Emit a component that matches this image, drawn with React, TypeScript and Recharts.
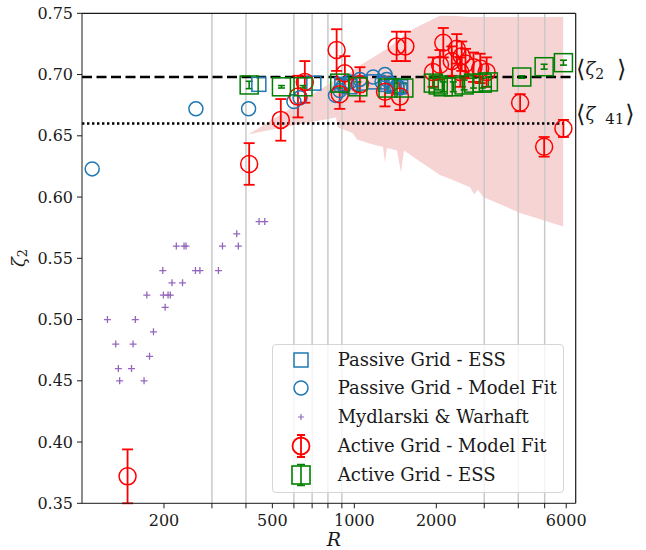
import React from 'react';
import {
  ComposedChart,
  XAxis,
  YAxis,
  Scatter,
  Area,
  ErrorBar,
  ReferenceLine,
  Legend,
} from 'recharts';

document.body.style.margin = '0';

const FONT = '"DejaVu Serif", serif';
const INK = '#1a1a1a';
const BLUE = '#1f77b4';
const PURPLE = '#9467bd';
const RED = '#ff0000';
const GREEN = '#008000';

// shaded band (spread of the active grid fits)
const BAND_R = [407, 580, 856, 870, 988, 1022, 1170, 1274, 1296, 1318, 1434, 1484, 1522, 1642, 1742, 2063, 2300, 2660, 2754, 2846, 2970, 4063, 5848];
const BAND_LO = [0.651, 0.658, 0.665, 0.657, 0.652, 0.647, 0.643, 0.641, 0.628, 0.64, 0.638, 0.62, 0.638, 0.633, 0.629, 0.618, 0.614, 0.608, 0.602, 0.606, 0.6, 0.587, 0.576];
const BAND_HI = [0.651, 0.672, 0.696, 0.696, 0.703, 0.706, 0.714, 0.719, 0.72, 0.721, 0.727, 0.73, 0.732, 0.737, 0.74, 0.748, 0.748, 0.747, 0.747, 0.747, 0.747, 0.747, 0.747];

// Passive Grid - ESS
const PG_ESS_R = [446, 710, 900, 963, 1050, 1180, 1300, 1400, 1480];
const PG_ESS_Z = [0.692, 0.693, 0.692, 0.69, 0.693, 0.694, 0.692, 0.691, 0.69];

// Passive Grid - Model Fit
const PG_FIT_R = [109, 262, 409, 600, 632, 853, 884, 914, 964, 1048, 1173, 1264, 1296, 1314, 1370, 1430, 1471];
const PG_FIT_Z = [0.623, 0.672, 0.672, 0.678, 0.681, 0.683, 0.687, 0.691, 0.694, 0.696, 0.698, 0.694, 0.7, 0.696, 0.692, 0.69, 0.689];

// Mydlarski & Warhaft
const MW_R = [124, 133, 136, 137.5, 152, 154, 157, 169, 173, 177, 183, 198, 199, 202, 207, 211, 214, 222, 234, 237, 241, 261, 271, 317, 328, 370, 375, 447, 469];
const MW_Z = [0.5, 0.48, 0.46, 0.45, 0.46, 0.48, 0.5, 0.45, 0.52, 0.47, 0.49, 0.54, 0.52, 0.51, 0.52, 0.52, 0.53, 0.56, 0.53, 0.56, 0.56, 0.54, 0.54, 0.54, 0.56, 0.57, 0.56, 0.58, 0.58];

// Active Grid - Model Fit
const AG_FIT_R = [147, 411, 537, 621, 658, 861, 884, 923, 1048, 1296, 1430, 1471, 1540, 1945, 2063, 2122, 2280, 2378, 2450, 2480, 2560, 2740, 2900, 3060, 4063, 4978, 5860];
const AG_FIT_Z = [0.372, 0.627, 0.663, 0.682, 0.694, 0.72, 0.684, 0.701, 0.692, 0.686, 0.723, 0.682, 0.723, 0.702, 0.708, 0.726, 0.711, 0.721, 0.702, 0.715, 0.709, 0.706, 0.705, 0.702, 0.677, 0.641, 0.656];
const AG_FIT_E = [0.022, 0.017, 0.017, 0.017, 0.017, 0.017, 0.012, 0.014, 0.014, 0.012, 0.012, 0.011, 0.012, 0.012, 0.012, 0.012, 0.012, 0.012, 0.012, 0.012, 0.012, 0.012, 0.012, 0.012, 0.007, 0.008, 0.007];

// Active Grid - ESS
const AG_ESS_R = [411, 540, 648, 884, 1030, 1330, 1520, 1950, 2033, 2120, 2310, 2530, 2740, 2950, 3106, 4120, 4978, 5860];
const AG_ESS_Z = [0.6915, 0.69, 0.69, 0.693, 0.69, 0.689, 0.689, 0.693, 0.6915, 0.69, 0.69, 0.6915, 0.693, 0.693, 0.694, 0.698, 0.7064, 0.7097];
const AG_ESS_E = [0.003, 0.001, 0.001, 0.004, 0.004, 0.004, 0.004, 0.004, 0.004, 0.004, 0.004, 0.004, 0.004, 0.004, 0.004, 0.001, 0.002, 0.002];

const MEAN_ESS = 0.698;
const MEAN_FIT = 0.66;

const X_MAJOR = [200, 500, 1000, 2000, 6000];
const X_TICKS = [200, 300, 400, 500, 600, 700, 800, 900, 1000, 2000, 3000, 4000, 5000, 6000];
const X_GRID = [300, 400, 600, 700, 800, 900, 3000, 4000, 5000];
const Y_TICKS = [0.35, 0.4, 0.45, 0.5, 0.55, 0.6, 0.65, 0.7, 0.75];

const LEGEND_LABELS = [
  'Passive Grid - ESS',
  'Passive Grid - Model Fit',
  'Mydlarski & Warhaft',
  'Active Grid - Model Fit',
  'Active Grid - ESS',
];

const pts = (r: number[], z: number[], e?: number[]) =>
  r.map((v, i) => ({ r: v, z: z[i], e: e ? e[i] : 0 }));

const band = BAND_R.map((r, i) => ({ r, band: [BAND_LO[i], BAND_HI[i]] }));

const ring = (rad: number, color: string) => (p: any) =>
  <circle cx={p.cx} cy={p.cy} r={rad} fill="none" stroke={color} strokeWidth={1.5} />;
const box = (s: number, color: string) => (p: any) =>
  <rect x={p.cx - s / 2} y={p.cy - s / 2} width={s} height={s} fill="none" stroke={color} strokeWidth={1.5} />;
const plus = (p: any) =>
  <path d={`M${p.cx - 3.5},${p.cy}h7M${p.cx},${p.cy - 3.5}v7`} stroke={PURPLE} strokeWidth={1.3} />;

// the <ζ_2> / <ζ_41> tags to the right of the axes
function SideText({ y, sub }: { y: number; sub: string }) {
  const wide = sub.length > 1;
  return (
    <text x={576} y={y} fontFamily={FONT} fontSize={18} fill={INK}>
      <tspan fontSize={24} dy={2}>⟨</tspan>
      <tspan fontStyle="italic" dy={-2}>ζ</tspan>
      <tspan dx={wide ? 10 : 0} dy={4} fontSize={wide ? 15 : 14}>{sub}</tspan>
      <tspan fontSize={24} dx={wide ? 1 : 13} dy={-2}>⟩</tspan>
    </text>
  );
}

const legendMarks = [
  <rect x={7} y={7} width={14} height={14} fill="none" stroke={BLUE} strokeWidth={1.5} />,
  <circle cx={14} cy={14} r={7} fill="none" stroke={BLUE} strokeWidth={1.5} />,
  <path d="M11,14h6M14,11v6" stroke={PURPLE} strokeWidth={1.2} />,
  <g stroke={RED} strokeWidth={1.8} fill="none">
    <circle cx={14} cy={14} r={8.5} />
    <path d="M14,3v22M10,3h8M10,25h8" />
  </g>,
  <g stroke={GREEN} strokeWidth={1.6} fill="none">
    <rect x={5} y={5} width={18} height={18} />
    <path d="M14,3.5v21M10,3.5h8M10,24.5h8" />
  </g>,
];

function LegendBox() {
  return (
    <div
      style={{
        position: 'relative',
        width: 292,
        height: 149,
        boxSizing: 'border-box',
        border: '1px solid #d6d6d6',
        borderRadius: 4,
        background: 'rgba(255,255,255,0.8)',
        fontFamily: FONT,
        fontSize: 18,
        color: INK,
      }}
    >
      {LEGEND_LABELS.map((label, i) => (
        <div key={label} style={{ position: 'absolute', left: 0, top: 0.7 + i * 28.7, height: 28, lineHeight: '28px', whiteSpace: 'nowrap' }}>
          <svg width={28} height={28} style={{ position: 'absolute', left: 13.7, top: 0 }}>
            {legendMarks[i]}
          </svg>
          <span style={{ position: 'absolute', left: 64.7, top: 0 }}>{label}</span>
        </div>
      ))}
    </div>
  );
}

export default function App() {
  const tickStyle = { fontFamily: FONT, fontSize: 16, fill: INK };
  return (
    <ComposedChart
      width={646}
      height={550}
      data={band}
      margin={{ top: 13.3, right: 70.3, bottom: 16.7, left: 22 }}
    >
      <XAxis
        dataKey="r"
        type="number"
        scale="log"
        domain={[100, 6500]}
        allowDataOverflow
        ticks={X_TICKS}
        interval={0}
        tickFormatter={(v: number) => (X_MAJOR.includes(v) ? String(v) : '')}
        tick={tickStyle}
        tickSize={5}
        tickMargin={6}
        height={30}
        stroke={INK}
        label={(props: any) => {
          const vb = props.viewBox;
          return (
            <text x={vb.x + vb.width / 2 + 5} y={546} textAnchor="middle" fontFamily={FONT} fontSize={19} fontStyle="italic" fill={INK}>
              R
            </text>
          );
        }}
      />
      <YAxis
        type="number"
        domain={[0.35, 0.75]}
        allowDataOverflow
        ticks={Y_TICKS}
        tickFormatter={(v: number) => v.toFixed(2)}
        tick={tickStyle}
        tickSize={5}
        tickMargin={4}
        width={60}
        stroke={INK}
        label={() => (
          <text x={18} y={258} transform="rotate(-90 18 258)" textAnchor="middle" dominantBaseline="central" fontFamily={FONT} fontSize={18} fill={INK}>
            <tspan fontStyle="italic">ζ</tspan>
            <tspan dy={4} fontSize={13}>2</tspan>
          </text>
        )}
      />
      {X_GRID.map((x) => (
        <ReferenceLine key={x} x={x} stroke="#c9c9c9" strokeWidth={1.5} />
      ))}
      <Area
        dataKey="band"
        type="linear"
        stroke="none"
        fill="#d62728"
        fillOpacity={0.2}
        isAnimationActive={false}
        legendType="none"
      />
      <ReferenceLine
        y={MEAN_ESS}
        stroke="#000"
        strokeWidth={2.4}
        strokeDasharray="10 4.5"
        label={() => <SideText y={75} sub="2" />}
      />
      <ReferenceLine
        segment={[{ x: 100, y: MEAN_FIT }, { x: 5860, y: MEAN_FIT }]}
        stroke="#000"
        strokeWidth={2.4}
        strokeDasharray="2.4 2.6"
        label={() => <SideText y={120} sub="41" />}
      />
      <Scatter data={pts(PG_ESS_R, PG_ESS_Z)} dataKey="z" shape={box(14, BLUE)} isAnimationActive={false} legendType="none" />
      <Scatter data={pts(PG_FIT_R, PG_FIT_Z)} dataKey="z" shape={ring(7, BLUE)} isAnimationActive={false} legendType="none" />
      <Scatter data={pts(MW_R, MW_Z)} dataKey="z" shape={plus} isAnimationActive={false} legendType="none" />
      <Scatter data={pts(AG_FIT_R, AG_FIT_Z, AG_FIT_E)} dataKey="z" shape={ring(8.5, RED)} isAnimationActive={false} legendType="none">
        <ErrorBar dataKey="e" direction="y" width={5.5} stroke={RED} strokeWidth={1.8} />
      </Scatter>
      <Scatter data={pts(AG_ESS_R, AG_ESS_Z, AG_ESS_E)} dataKey="z" shape={box(18, GREEN)} isAnimationActive={false} legendType="none">
        <ErrorBar dataKey="e" direction="y" width={3.5} stroke={GREEN} strokeWidth={1.6} />
      </Scatter>
      <ReferenceLine y={0.75} stroke={INK} strokeWidth={1.2} />
      <ReferenceLine x={6500} stroke={INK} strokeWidth={1.2} />
      <Legend
        layout="vertical"
        align="center"
        verticalAlign="middle"
        content={() => <LegendBox />}
        wrapperStyle={{ left: 272, top: 344, width: 292, height: 149 }}
      />
    </ComposedChart>
  );
}
